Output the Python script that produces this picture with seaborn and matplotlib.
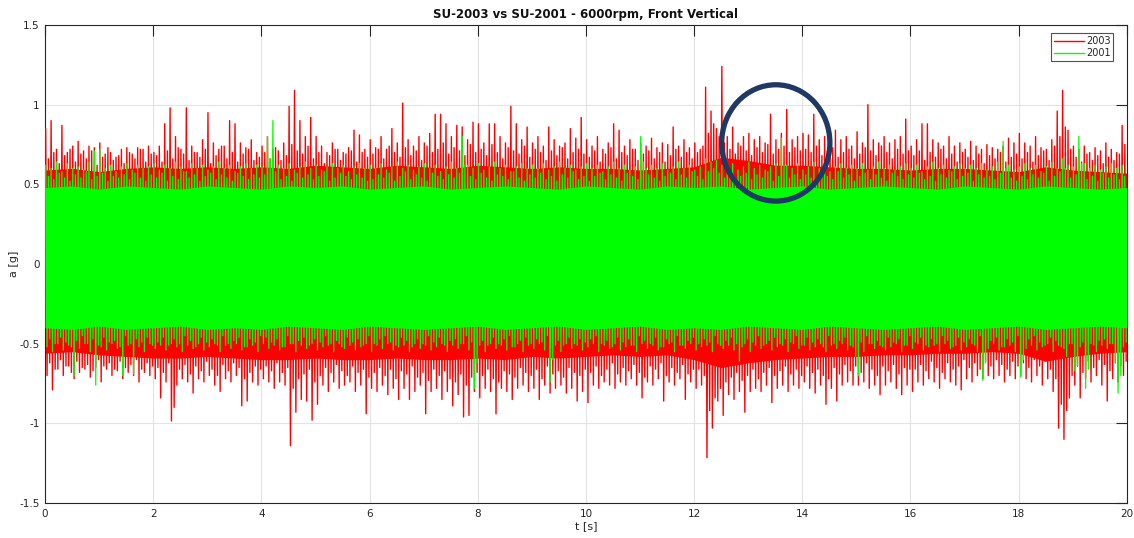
import numpy as np
import pandas as pd
import matplotlib
matplotlib.use("Agg")
import matplotlib.pyplot as plt
from matplotlib.patches import Ellipse
import seaborn as sns

# ---------------------------------------------------------------------------
# Acceleration signals, front vertical, 6000 rpm.
# SU-2003: upper / lower extreme of the trace per 0.05 s window.
# ---------------------------------------------------------------------------
t_win_2003 = [round(0.025 + 0.05 * i, 3) for i in range(400)]

su2003_peak_hi = [
    0.85, 0.66, 0.90, 0.70, 0.72, 0.63, 0.87, 0.68, 0.70, 0.72, 0.74, 0.64, 0.77, 0.69, 0.71, 0.66, 0.74, 0.71, 0.73, 0.62,
    0.76, 0.67, 0.69, 0.73, 0.70, 0.65, 0.67, 0.68, 0.72, 0.63, 0.73, 0.70, 0.69, 0.66, 0.73, 0.72, 0.72, 0.64, 0.74, 0.69,
    0.70, 0.68, 0.74, 0.64, 0.88, 0.71, 0.98, 0.66, 0.80, 0.73, 0.72, 0.69, 0.98, 0.65, 0.74, 0.70, 0.70, 0.67, 0.78, 0.72,
    0.95, 0.63, 0.76, 0.68, 0.72, 0.74, 0.74, 0.66, 0.90, 0.70, 0.88, 0.64, 0.76, 0.69, 0.73, 0.72, 0.78, 0.65, 0.70, 0.67,
    0.74, 0.70, 0.80, 0.66, 0.72, 0.73, 0.71, 0.65, 0.76, 0.68, 0.99, 0.75, 1.09, 0.71, 0.90, 0.69, 0.80, 0.74, 0.92, 0.66,
    0.80, 0.70, 0.74, 0.63, 0.70, 0.68, 0.76, 0.72, 0.72, 0.65, 0.70, 0.69, 0.73, 0.71, 0.84, 0.64, 0.81, 0.70, 0.72, 0.67,
    0.78, 0.69, 0.73, 0.72, 0.80, 0.66, 0.72, 0.74, 0.85, 0.70, 0.76, 0.67, 1.01, 0.73, 0.78, 0.68, 0.74, 0.71, 0.80, 0.65,
    0.76, 0.74, 0.82, 0.70, 0.94, 0.72, 0.94, 0.76, 0.88, 0.69, 0.80, 0.73, 0.87, 0.71, 0.86, 0.68, 0.78, 0.75, 0.89, 0.70,
    0.88, 0.72, 0.76, 0.68, 0.88, 0.75, 0.88, 0.70, 0.80, 0.66, 0.76, 0.73, 0.99, 0.71, 0.88, 0.69, 0.78, 0.74, 0.86, 0.67,
    0.76, 0.72, 0.80, 0.70, 0.74, 0.65, 0.86, 0.71, 0.78, 0.68, 0.74, 0.73, 0.76, 0.66, 0.85, 0.70, 0.79, 0.72, 0.92, 0.69,
    0.78, 0.67, 0.74, 0.71, 0.80, 0.64, 0.72, 0.69, 0.76, 0.73, 0.88, 0.66, 0.84, 0.70, 0.74, 0.68, 0.78, 0.72, 0.72, 0.65,
    0.76, 0.69, 0.74, 0.71, 0.79, 0.66, 0.73, 0.70, 0.76, 0.64, 0.75, 0.68, 0.86, 0.72, 0.74, 0.67, 0.78, 0.70, 0.73, 0.66,
    0.76, 0.70, 0.72, 0.74, 1.11, 0.82, 0.96, 0.88, 0.85, 0.80, 1.24, 0.76, 0.80, 0.72, 0.86, 0.69, 0.76, 0.74, 0.80, 0.71,
    0.82, 0.68, 0.78, 0.73, 0.80, 0.70, 0.76, 0.75, 0.94, 0.69, 0.78, 0.72, 0.82, 0.74, 0.97, 0.70, 0.78, 0.73, 0.80, 0.71,
    0.82, 0.72, 0.81, 0.70, 0.94, 0.74, 0.78, 0.68, 0.80, 0.71, 0.76, 0.73, 0.84, 0.67, 0.78, 0.70, 0.80, 0.72, 0.74, 0.66,
    0.83, 0.69, 0.76, 0.73, 1.00, 0.71, 0.78, 0.68, 0.76, 0.74, 0.80, 0.70, 0.76, 0.66, 0.78, 0.72, 0.80, 0.69, 0.91, 0.71,
    0.74, 0.68, 0.78, 0.71, 0.88, 0.65, 0.88, 0.70, 0.78, 0.67, 0.76, 0.72, 0.74, 0.66, 0.80, 0.69, 0.74, 0.64, 0.76, 0.70,
    0.72, 0.67, 0.77, 0.65, 0.74, 0.69, 0.72, 0.63, 0.75, 0.68, 0.73, 0.66, 0.72, 0.70, 0.74, 0.64, 0.79, 0.67, 0.76, 0.69,
    0.82, 0.66, 0.76, 0.70, 0.74, 0.64, 0.80, 0.68, 0.73, 0.71, 0.72, 0.65, 0.78, 0.74, 0.96, 0.80, 1.09, 0.86, 0.84, 0.72,
    0.74, 0.67, 0.72, 0.64, 0.74, 0.69, 0.70, 0.65, 0.73, 0.68, 0.71, 0.63, 0.76, 0.67, 0.72, 0.65, 0.70, 0.69, 0.87, 0.75,
]

su2003_peak_lo = [
    -0.70, -0.62, -0.79, -0.66, -0.66, -0.60, -0.70, -0.64, -0.64, -0.68, -0.72, -0.61, -0.68, -0.65, -0.66, -0.63, -0.71, -0.67, -0.65, -0.60,
    -0.74, -0.64, -0.66, -0.62, -0.70, -0.66, -0.67, -0.61, -0.72, -0.65, -0.68, -0.63, -0.70, -0.60, -0.74, -0.66, -0.68, -0.62, -0.70, -0.64,
    -0.72, -0.65, -0.84, -0.68, -0.74, -0.62, -0.985, -0.90, -0.76, -0.66, -0.72, -0.63, -0.74, -0.69, -0.81, -0.64, -0.72, -0.67, -0.74, -0.61,
    -0.70, -0.66, -0.76, -0.70, -0.80, -0.63, -0.72, -0.67, -0.74, -0.62, -0.70, -0.65, -0.89, -0.72, -0.86, -0.68, -0.74, -0.64, -0.76, -0.66,
    -0.72, -0.64, -0.74, -0.67, -0.78, -0.62, -0.74, -0.68, -0.76, -0.65, -1.14, -0.78, -0.93, -0.72, -0.85, -0.69, -0.86, -0.66, -0.98, -0.74,
    -0.88, -0.70, -0.76, -0.65, -0.80, -0.68, -0.74, -0.63, -0.78, -0.67, -0.76, -0.70, -0.74, -0.64, -0.80, -0.68, -0.76, -0.66, -0.94, -0.71,
    -0.78, -0.68, -0.80, -0.65, -0.76, -0.70, -0.82, -0.66, -0.78, -0.72, -0.85, -0.67, -0.78, -0.69, -0.85, -0.64, -0.80, -0.71, -0.76, -0.68,
    -0.94, -0.73, -0.80, -0.66, -0.78, -0.70, -0.85, -0.67, -0.80, -0.72, -0.89, -0.74, -0.82, -0.69, -0.96, -0.76, -0.95, -0.71, -0.80, -0.68,
    -0.84, -0.70, -0.78, -0.66, -0.80, -0.72, -0.94, -0.74, -0.78, -0.67, -0.80, -0.69, -0.85, -0.71, -0.78, -0.65, -0.76, -0.68, -0.80, -0.70,
    -0.78, -0.66, -0.85, -0.72, -0.76, -0.64, -0.81, -0.69, -0.78, -0.67, -0.76, -0.71, -0.81, -0.65, -0.78, -0.68, -0.86, -0.70, -0.80, -0.66,
    -0.87, -0.68, -0.76, -0.64, -0.78, -0.70, -0.74, -0.66, -0.76, -0.62, -0.78, -0.69, -0.74, -0.65, -0.76, -0.67, -0.72, -0.63, -0.76, -0.68,
    -0.84, -0.71, -0.74, -0.64, -0.76, -0.66, -0.72, -0.62, -0.86, -0.70, -0.74, -0.65, -0.76, -0.68, -0.72, -0.63, -0.85, -0.69, -0.74, -0.66,
    -0.78, -0.66, -0.76, -0.70, -1.215, -0.92, -1.03, -0.84, -0.86, -0.78, -0.95, -0.74, -0.82, -0.71, -0.85, -0.68, -0.80, -0.73, -0.93, -0.70,
    -0.80, -0.66, -0.78, -0.72, -0.80, -0.68, -0.76, -0.65, -0.87, -0.70, -0.78, -0.67, -0.76, -0.64, -0.80, -0.69, -0.76, -0.66, -0.78, -0.70,
    -0.74, -0.64, -0.78, -0.68, -0.81, -0.66, -0.76, -0.70, -0.88, -0.72, -0.78, -0.65, -0.86, -0.69, -0.76, -0.63, -0.74, -0.67, -0.76, -0.64,
    -0.76, -0.68, -0.74, -0.62, -0.78, -0.66, -0.76, -0.70, -0.82, -0.64, -0.76, -0.67, -0.74, -0.63, -0.78, -0.69, -0.82, -0.65, -0.76, -0.66,
    -0.80, -0.66, -0.74, -0.63, -0.76, -0.67, -0.72, -0.61, -0.74, -0.65, -0.78, -0.68, -0.72, -0.62, -0.74, -0.66, -0.76, -0.64, -0.79, -0.60,
    -0.72, -0.65, -0.74, -0.62, -0.70, -0.66, -0.72, -0.61, -0.70, -0.64, -0.72, -0.60, -0.70, -0.63, -0.74, -0.66, -0.70, -0.61, -0.72, -0.64,
    -0.70, -0.62, -0.72, -0.65, -0.74, -0.60, -0.70, -0.64, -0.76, -0.61, -0.72, -0.66, -0.80, -0.72, -1.03, -0.88, -1.10, -0.92, -0.84, -0.70,
    -0.76, -0.64, -0.84, -0.68, -0.72, -0.61, -0.74, -0.65, -0.70, -0.60, -0.76, -0.63, -0.86, -0.67, -0.72, -0.62, -0.74, -0.64, -0.70, -0.61,
]

# SU-2001: extremes per 0.1 s window (peak) and in between (mid).
t_win_2001 = [round(0.05 + 0.1 * i, 2) for i in range(200)]

su2001_peak_hi = [
    0.62, 0.60, 0.64, 0.58, 0.63, 0.60, 0.61, 0.59, 0.64, 0.71, 0.72, 0.60, 0.62, 0.58, 0.61, 0.63, 0.59, 0.62, 0.60, 0.61,
    0.63, 0.59, 0.62, 0.60, 0.64, 0.61, 0.58, 0.63, 0.60, 0.62, 0.59, 0.61, 0.64, 0.60, 0.62, 0.58, 0.61, 0.63, 0.60, 0.62,
    0.61, 0.80, 0.90, 0.62, 0.60, 0.63, 0.59, 0.61, 0.64, 0.60, 0.62, 0.59, 0.61, 0.63, 0.60, 0.62, 0.58, 0.61, 0.63, 0.60,
    0.62, 0.60, 0.63, 0.59, 0.61, 0.64, 0.60, 0.62, 0.59, 0.61, 0.63, 0.60, 0.62, 0.58, 0.61, 0.64, 0.60, 0.80, 0.62, 0.60,
    0.63, 0.59, 0.61, 0.64, 0.60, 0.62, 0.58, 0.61, 0.63, 0.60, 0.62, 0.60, 0.63, 0.59, 0.61, 0.64, 0.60, 0.62, 0.59, 0.61,
    0.63, 0.60, 0.62, 0.58, 0.61, 0.64, 0.60, 0.62, 0.59, 0.61, 0.80, 0.60, 0.62, 0.60, 0.63, 0.59, 0.61, 0.64, 0.60, 0.62,
    0.59, 0.61, 0.66, 0.64, 0.65, 0.62, 0.60, 0.63, 0.59, 0.61, 0.64, 0.60, 0.62, 0.59, 0.61, 0.63, 0.79, 0.62, 0.60, 0.63,
    0.59, 0.61, 0.64, 0.60, 0.62, 0.58, 0.61, 0.63, 0.60, 0.62, 0.60, 0.63, 0.59, 0.61, 0.64, 0.60, 0.62, 0.59, 0.61, 0.63,
    0.60, 0.62, 0.58, 0.61, 0.64, 0.60, 0.62, 0.59, 0.61, 0.63, 0.60, 0.62, 0.60, 0.63, 0.59, 0.61, 0.64, 0.77, 0.62, 0.59,
    0.61, 0.63, 0.60, 0.62, 0.58, 0.61, 0.64, 0.60, 0.66, 0.62, 0.61, 0.80, 0.63, 0.60, 0.62, 0.59, 0.61, 0.63, 0.60, 0.62,
]
su2001_mid_hi = [
    0.55, 0.53, 0.57, 0.54, 0.52, 0.56, 0.54, 0.58, 0.53, 0.55, 0.57, 0.52, 0.55, 0.54, 0.56, 0.53, 0.57, 0.54, 0.52, 0.56,
    0.54, 0.57, 0.52, 0.55, 0.53, 0.58, 0.54, 0.56, 0.52, 0.55, 0.57, 0.53, 0.56, 0.54, 0.52, 0.57, 0.55, 0.53, 0.56, 0.54,
    0.56, 0.66, 0.58, 0.53, 0.55, 0.52, 0.57, 0.54, 0.56, 0.53, 0.55, 0.58, 0.52, 0.54, 0.57, 0.55, 0.53, 0.56, 0.54, 0.52,
    0.53, 0.56, 0.54, 0.57, 0.52, 0.55, 0.58, 0.53, 0.56, 0.54, 0.52, 0.57, 0.55, 0.53, 0.56, 0.54, 0.57, 0.62, 0.55, 0.53,
    0.57, 0.54, 0.52, 0.56, 0.55, 0.53, 0.58, 0.54, 0.52, 0.56, 0.54, 0.57, 0.53, 0.55, 0.52, 0.56, 0.54, 0.58, 0.53, 0.55,
    0.52, 0.55, 0.57, 0.53, 0.56, 0.54, 0.52, 0.57, 0.55, 0.53, 0.64, 0.56, 0.54, 0.52, 0.55, 0.57, 0.53, 0.56, 0.54, 0.58,
    0.55, 0.53, 0.58, 0.60, 0.57, 0.54, 0.56, 0.52, 0.55, 0.57, 0.53, 0.56, 0.54, 0.58, 0.52, 0.55, 0.62, 0.54, 0.56, 0.53,
    0.56, 0.54, 0.52, 0.57, 0.55, 0.53, 0.58, 0.54, 0.56, 0.52, 0.55, 0.57, 0.53, 0.56, 0.54, 0.52, 0.57, 0.55, 0.53, 0.56,
    0.54, 0.57, 0.53, 0.55, 0.52, 0.56, 0.54, 0.58, 0.53, 0.55, 0.57, 0.52, 0.56, 0.54, 0.55, 0.53, 0.57, 0.60, 0.54, 0.52,
    0.55, 0.53, 0.56, 0.54, 0.57, 0.52, 0.55, 0.58, 0.60, 0.54, 0.56, 0.63, 0.53, 0.55, 0.52, 0.57, 0.54, 0.56, 0.53, 0.55,
]

su2001_peak_lo = [
    -0.52, -0.55, -0.50, -0.54, -0.51, -0.70, -0.53, -0.50, -0.55, -0.76, -0.52, -0.54, -0.50, -0.53, -0.70, -0.51, -0.69, -0.52, -0.55, -0.50,
    -0.53, -0.51, -0.54, -0.50, -0.52, -0.55, -0.51, -0.53, -0.50, -0.54, -0.52, -0.50, -0.55, -0.51, -0.53, -0.50, -0.54, -0.52, -0.51, -0.55,
    -0.50, -0.53, -0.51, -0.54, -0.52, -0.50, -0.55, -0.51, -0.53, -0.50, -0.54, -0.52, -0.51, -0.55, -0.50, -0.53, -0.51, -0.54, -0.52, -0.50,
    -0.55, -0.51, -0.53, -0.50, -0.54, -0.52, -0.51, -0.55, -0.50, -0.53, -0.51, -0.54, -0.52, -0.50, -0.55, -0.51, -0.53, -0.50, -0.54, -0.78,
    -0.51, -0.55, -0.50, -0.53, -0.51, -0.54, -0.52, -0.50, -0.55, -0.51, -0.53, -0.50, -0.54, -0.74, -0.51, -0.55, -0.50, -0.53, -0.51, -0.54,
    -0.52, -0.50, -0.55, -0.51, -0.53, -0.50, -0.54, -0.52, -0.51, -0.55, -0.50, -0.53, -0.51, -0.54, -0.52, -0.50, -0.55, -0.51, -0.53, -0.50,
    -0.54, -0.52, -0.51, -0.55, -0.50, -0.53, -0.51, -0.54, -0.61, -0.50, -0.55, -0.51, -0.53, -0.50, -0.54, -0.52, -0.51, -0.55, -0.50, -0.53,
    -0.51, -0.54, -0.52, -0.50, -0.55, -0.51, -0.53, -0.50, -0.54, -0.52, -0.70, -0.55, -0.50, -0.53, -0.51, -0.54, -0.52, -0.50, -0.55, -0.51,
    -0.53, -0.50, -0.54, -0.52, -0.51, -0.55, -0.50, -0.53, -0.51, -0.54, -0.52, -0.50, -0.55, -0.73, -0.53, -0.50, -0.54, -0.52, -0.51, -0.55,
    -0.71, -0.53, -0.51, -0.54, -0.52, -0.50, -0.55, -0.51, -0.53, -0.50, -0.67, -0.52, -0.78, -0.50, -0.55, -0.51, -0.53, -0.50, -0.81, -0.52,
]
su2001_mid_lo = [
    -0.47, -0.50, -0.46, -0.49, -0.52, -0.48, -0.45, -0.50, -0.47, -0.51, -0.46, -0.49, -0.48, -0.52, -0.45, -0.50, -0.47, -0.49, -0.46, -0.51,
    -0.49, -0.46, -0.51, -0.47, -0.50, -0.45, -0.48, -0.52, -0.46, -0.49, -0.47, -0.51, -0.45, -0.50, -0.48, -0.46, -0.52, -0.47, -0.49, -0.45,
    -0.46, -0.49, -0.47, -0.52, -0.45, -0.50, -0.48, -0.46, -0.51, -0.47, -0.49, -0.45, -0.50, -0.48, -0.52, -0.46, -0.49, -0.47, -0.51, -0.45,
    -0.50, -0.47, -0.45, -0.49, -0.51, -0.46, -0.48, -0.52, -0.47, -0.50, -0.45, -0.49, -0.46, -0.51, -0.48, -0.47, -0.50, -0.45, -0.49, -0.62,
    -0.48, -0.51, -0.46, -0.50, -0.47, -0.45, -0.52, -0.48, -0.46, -0.50, -0.47, -0.49, -0.45, -0.60, -0.48, -0.51, -0.46, -0.50, -0.47, -0.49,
    -0.47, -0.45, -0.50, -0.48, -0.52, -0.46, -0.49, -0.47, -0.51, -0.45, -0.48, -0.50, -0.46, -0.52, -0.47, -0.49, -0.45, -0.51, -0.48, -0.46,
    -0.50, -0.47, -0.49, -0.45, -0.51, -0.48, -0.46, -0.50, -0.52, -0.47, -0.49, -0.45, -0.51, -0.48, -0.46, -0.50, -0.47, -0.49, -0.45, -0.51,
    -0.46, -0.49, -0.47, -0.52, -0.45, -0.50, -0.48, -0.46, -0.51, -0.58, -0.49, -0.45, -0.50, -0.48, -0.52, -0.46, -0.49, -0.47, -0.51, -0.45,
    -0.49, -0.46, -0.51, -0.47, -0.50, -0.45, -0.48, -0.52, -0.46, -0.49, -0.47, -0.51, -0.45, -0.62, -0.48, -0.46, -0.52, -0.47, -0.49, -0.45,
    -0.60, -0.47, -0.45, -0.49, -0.51, -0.46, -0.48, -0.52, -0.58, -0.50, -0.64, -0.49, -0.66, -0.51, -0.48, -0.47, -0.50, -0.62, -0.70, -0.49,
]

# Dense body of each trace, per 0.5 s.
t_core = [0.5 * i for i in range(41)]
su2003_core_hi = [0.59, 0.60, 0.58, 0.60, 0.61, 0.60, 0.61, 0.60, 0.61, 0.60, 0.62, 0.61, 0.60, 0.62, 0.61, 0.60,
                  0.62, 0.61, 0.60, 0.61, 0.60, 0.60, 0.59, 0.60, 0.61, 0.67, 0.65, 0.62, 0.62, 0.61, 0.60, 0.60,
                  0.59, 0.60, 0.60, 0.59, 0.58, 0.61, 0.59, 0.58, 0.57]
su2003_core_lo = [-0.56, -0.55, -0.57, -0.58, -0.59, -0.59, -0.58, -0.59, -0.60, -0.60, -0.59, -0.60, -0.60, -0.59, -0.60, -0.60,
                  -0.59, -0.60, -0.58, -0.59, -0.58, -0.57, -0.58, -0.57, -0.60, -0.65, -0.62, -0.60, -0.59, -0.58, -0.58, -0.57,
                  -0.57, -0.56, -0.56, -0.55, -0.56, -0.61, -0.58, -0.56, -0.55]
su2001_core_hi = [0.48, 0.49, 0.47, 0.49, 0.48, 0.47, 0.49, 0.48, 0.47, 0.49, 0.48, 0.49, 0.47, 0.48, 0.49, 0.47,
                  0.48, 0.49, 0.48, 0.47, 0.49, 0.48, 0.47, 0.49, 0.48, 0.49, 0.47, 0.48, 0.49, 0.47, 0.48, 0.49,
                  0.48, 0.47, 0.49, 0.48, 0.47, 0.49, 0.48, 0.47, 0.48]
su2001_core_lo = [-0.40, -0.41, -0.39, -0.41, -0.40, -0.39, -0.41, -0.40, -0.41, -0.39, -0.40, -0.41, -0.39, -0.40, -0.41, -0.40,
                  -0.39, -0.41, -0.40, -0.39, -0.41, -0.40, -0.39, -0.41, -0.40, -0.41, -0.39, -0.40, -0.41, -0.39, -0.40, -0.41,
                  -0.40, -0.39, -0.41, -0.40, -0.39, -0.41, -0.40, -0.39, -0.40]

series_names = ["2003", "2001"]
series_colors = ["#ff0000", "#00ff00"]

x_ticks = [0, 2, 4, 6, 8, 10, 12, 14, 16, 18, 20]
y_ticks = [-1.5, -1.0, -0.5, 0.0, 0.5, 1.0, 1.5]
y_tick_labels = ["-1.5", "-1", "-0.5", "0", "0.5", "1", "1.5"]

# highlighted region (centre t, centre a, width s, height g)
ring = (13.51, 0.76, 2.0, 0.73)


def interleave(a, b):
    out = []
    for u, v in zip(a, b):
        out += [u, v]
    return out


def trace_frame(t, hi, lo, step):
    """Alternate the upper and lower extremes of each window into one trace."""
    xs, ys = [], []
    for ti, h, l in zip(t, hi, lo):
        xs += [ti - step / 4, ti + step / 4]
        ys += [h, l]
    return pd.DataFrame({"t": xs, "a": ys})


# SU-2001 windows merged to the same 0.05 s spacing as SU-2003
t_2001 = interleave([t - 0.025 for t in t_win_2001], [t + 0.025 for t in t_win_2001])
hi_2001 = interleave(su2001_peak_hi, su2001_mid_hi)
lo_2001 = interleave(su2001_peak_lo, su2001_mid_lo)

sns.set_style("white")
plt.rcParams["font.family"] = ["DejaVu Sans"]

fig = plt.figure(figsize=(11.34, 5.38), dpi=100)
ax = fig.add_axes([0.0397, 0.065, 0.954, 0.8885])

traces = [
    (t_win_2003, su2003_peak_hi, su2003_peak_lo, su2003_core_hi, su2003_core_lo, 1.0),
    (t_2001, hi_2001, lo_2001, su2001_core_hi, su2001_core_lo, 0.9),
]
for k, (name, color, (tw, phi, plo, chi, clo, lw)) in enumerate(
        zip(series_names, series_colors, traces)):
    base = 2 + 2 * k
    ax.fill_between(t_core, clo, chi, color=color, lw=0, zorder=base)
    df = trace_frame(tw, phi, plo, 0.05)
    sns.lineplot(data=df, x="t", y="a", sort=False, estimator=None,
                 color=color, lw=lw, ax=ax, label=name, zorder=base + 1)

ax.add_patch(Ellipse((ring[0], ring[1]), ring[2], ring[3], fill=False,
                     edgecolor="#1f3864", lw=3.8, zorder=6))

ax.set_xlim(0, 20)
ax.set_ylim(-1.5, 1.5)
ax.set_xticks(x_ticks)
ax.set_xticklabels([str(v) for v in x_ticks])
ax.set_yticks(y_ticks)
ax.set_yticklabels(y_tick_labels)
ax.grid(True, color="#e3e3e3", lw=0.8, zorder=0)
ax.set_axisbelow(True)
ax.tick_params(axis="both", direction="in", length=8, width=0.8, labelsize=7.5,
               colors="#262626", top=True, right=True, pad=4)
for s in ax.spines.values():
    s.set_color("#262626")
    s.set_linewidth(0.8)

ax.set_xlabel("t [s]", fontsize=8, color="#262626", labelpad=2)
ax.set_ylabel("a [g]", fontsize=8, color="#262626", labelpad=0)
ax.set_title("SU-2003 vs SU-2001 - 6000rpm, Front Vertical", fontsize=8.5,
             fontweight="bold", color="#111111", pad=5)

leg = ax.legend(loc="upper right", fontsize=7, frameon=True, fancybox=False,
                borderpad=0.3, handlelength=3.1, handletextpad=0.2,
                labelspacing=0.2, bbox_to_anchor=(0.992, 0.993))
leg.get_frame().set_edgecolor("#262626")
leg.get_frame().set_linewidth(0.8)
for line in leg.get_lines():
    line.set_linewidth(1.0)

fig.savefig("out.png", dpi=100, facecolor="white")
